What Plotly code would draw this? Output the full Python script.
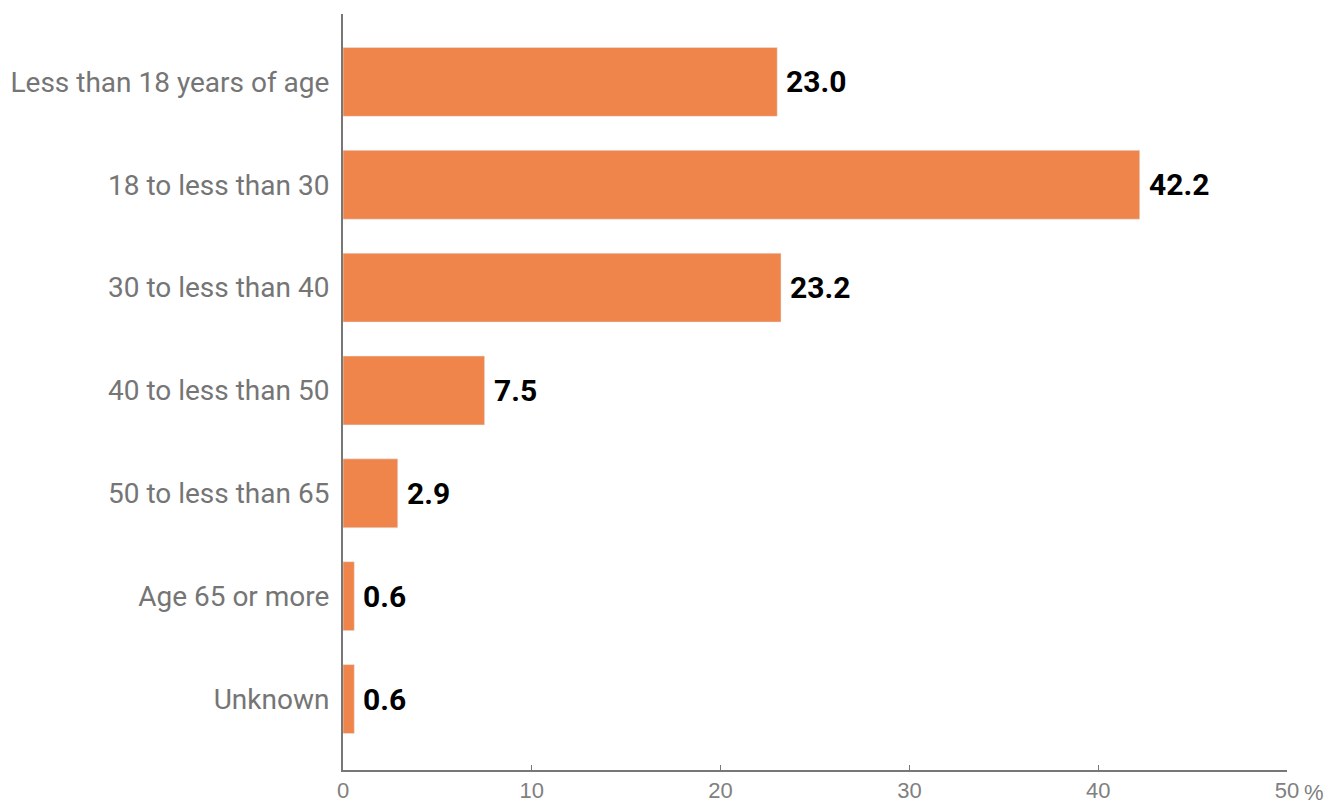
import plotly.graph_objects as go

categories = [
    "Less than 18 years of age",
    "18 to less than 30",
    "30 to less than 40",
    "40 to less than 50",
    "50 to less than 65",
    "Age 65 or more",
    "Unknown",
]
values = [23.0, 42.2, 23.2, 7.5, 2.9, 0.6, 0.6]
tick_vals = [0, 10, 20, 30, 40, 50]
tick_text = ["0", "10", "20", "30", "40", "50"]

BAR_COLOR = "#EF854B"
AXIS_COLOR = "#777777"
LABEL_FONT = "Roboto, Liberation Sans, sans-serif"
TICK_FONT = "Liberation Sans, Arial, sans-serif"

fig = go.Figure()
fig.add_trace(go.Bar(
    x=values,
    y=categories,
    orientation="h",
    marker_color=BAR_COLOR,
    width=0.67,
    hoverinfo="x+y",
))

# value labels next to each bar
for cat, val in zip(categories, values):
    fig.add_annotation(
        x=val, y=cat, text=f"<b>{val:.1f}</b>",
        xanchor="left", yanchor="middle", xshift=7, showarrow=False,
        font=dict(family=LABEL_FONT, size=30, color="#000000"),
    )

# percent sign after the last tick
fig.add_annotation(
    x=50, y=0, xref="x", yref="paper", text="%",
    xanchor="left", yanchor="top", xshift=15, yshift=-8, showarrow=False,
    font=dict(family=TICK_FONT, size=22, color="#808080"),
)

# page body adds an 8px offset, so the figure is sized to the visible area
fig.update_layout(
    width=1329, height=797,
    margin=dict(l=335, r=50, t=6, b=35),
    paper_bgcolor="white", plot_bgcolor="white",
    showlegend=False,
    bargap=0.33,
    xaxis=dict(
        range=[0, 50], tickvals=tick_vals, ticktext=tick_text,
        showgrid=False, zeroline=False, automargin=False,
        showline=True, linecolor=AXIS_COLOR, linewidth=2,
        ticks="inside", ticklen=5, tickcolor=AXIS_COLOR, tickwidth=1,
        tickfont=dict(family=TICK_FONT, size=22, color="#808080"),
    ),
    yaxis=dict(
        range=[6.69, -0.66],
        categoryorder="array", categoryarray=categories,
        showgrid=False, zeroline=False, automargin=False,
        showline=True, linecolor=AXIS_COLOR, linewidth=2,
        ticks="", ticklabelstandoff=6,
        tickfont=dict(family=LABEL_FONT, size=28, color="#757575"),
    ),
)

fig.write_html("out.html")
